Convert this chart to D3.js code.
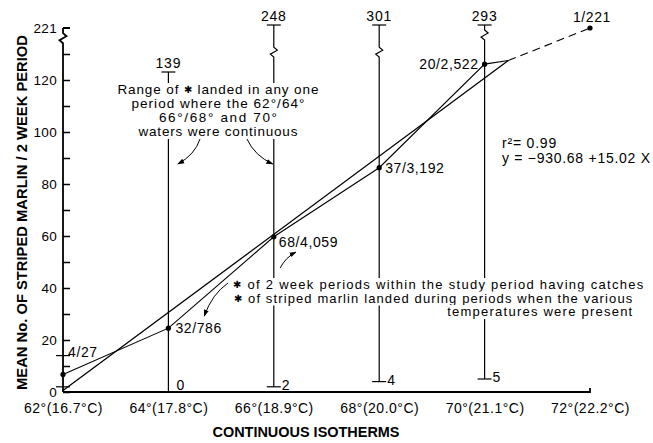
<!DOCTYPE html>
<html><head><meta charset="utf-8">
<script src="https://cdn.jsdelivr.net/npm/d3@7"></script>
<style>
body{margin:0;background:#fff}
svg{display:block}
text{font-family:"Liberation Sans",Arial,Helvetica,sans-serif;fill:#000}
</style></head><body>
<svg id="c" width="653" height="443"></svg>
<script>
// ---- data ----
const isotherms = [62, 64, 66, 68, 70, 72];
const isoLabels = ["62°(16.7°C)", "64°(17.8°C)", "66°(18.9°C)", "68°(20.0°C)", "70°(21.1°C)", "72°(22.2°C)"];
const periods = [4, 32, 68, 37, 20, 1];
const landed = ["27", "786", "4,059", "3,192", "2,522", "221"];
const meanCatch = [6.75, 24.56, 59.69, 86.27, 126.1, 221];
const rangeIso = [62, 64, 66, 68, 70];
const rangeLow = [2, 0, 2, 4, 5];
const rangeHigh = [14, 139, 248, 301, 293];
const rangeLabelled = [false, true, true, true, true];
const rangeBreak = [null, null, 176, 176, 208];
const yTicks = [0, 20, 40, 60, 80, 100, 120];
const yMinor = [10, 30, 50, 70, 90, 110, 130];
const yBreakTop = 221, yAxisBreak = 202;
const regIntercept = -930.68, regSlope = 15.02, regR2 = 0.99;
const regSpan = [62, 70.45];
const rangeNote = ["Range of \u2731 landed in any one", "period where the 62°/64°", "66°/68° and 70°", "waters were continuous"];
const rangeNoteLen = [201, 173, 118, 159];
const marlinNote = ["\u2731 of 2 week periods within the study period having catches", "\u2731 of striped marlin landed during periods when the various", "temperatures were present"];
// annotation anchors in data units [°F, mean]
const rangeNoteAt = [64.94, 114.6];
const marlinNoteAt = [65.23, 39.6];
const eqAt = [70.33, 94.0];
const arrows = [
  [[64.60, 97.3], [64.50, 91.2], [64.18, 87.7]],
  [[65.49, 97.3], [65.64, 90.8], [65.98, 87.7]],
  [[66.12, 47.7], [66.23, 51.9], [66.42, 53.8]],
  [[65.13, 41.9], [64.83, 37.7], [64.68, 29.2]]
];
// label offsets (px) for point labels
const ptLabel = [
  {a: "start", dx: 5, dy: -17},
  {a: "start", dx: 7, dy: 5},
  {a: "start", dx: 5, dy: 10},
  {a: "start", dx: 6, dy: 5},
  {a: "end", dx: -6, dy: 5},
  {a: "middle", dx: 2, dy: -6}
];

// ---- scales ----
const svg = d3.select("#c");
const x = d3.scaleLinear().domain([62, 72]).range([63, 590]);
const y = d3.scaleLinear().domain([0, 120]).range([392, 80]);
const yTop = d3.scaleLinear().domain([139, 221, 248]).range([72, 28, 25]).clamp(true);
const yv = v => v <= 130 ? y(v) : yTop(v);
const P = p => [x(p[0]), y(p[1])];

function brokenPath(xp, yT, yB, bp) {
  if (bp == null) return `M${xp},${yT}V${yB}`;
  return `M${xp},${yT}V${bp - 5}L${xp + 3.5},${bp - 2}L${xp - 3.5},${bp + 2}L${xp},${bp + 5}V${yB}`;
}
function backing(sel, pad) {
  const b = sel.node().getBBox();
  svg.insert("rect", () => sel.node()).attr("x", b.x - pad).attr("y", b.y + 1)
    .attr("width", b.width + 2 * pad).attr("height", b.height - 1).attr("fill", "#fff");
}
// writes a string, drawing the ✱ symbol a little smaller
function starText(node, str) {
  str.split("\u2731").forEach((part, k) => {
    if (k > 0) node.append("tspan").attr("font-size", 10).attr("dy", -1).text("\u2731");
    if (part) node.append("tspan").attr("dy", k > 0 ? 1 : 0).text(part);
  });
}

svg.append("defs").append("marker").attr("id", "ah")
  .attr("viewBox", "0 0 10 10").attr("refX", 9).attr("refY", 5)
  .attr("markerWidth", 7).attr("markerHeight", 7).attr("orient", "auto")
  .append("path").attr("d", "M0,1.5L10,5L0,8.5Z").attr("fill", "#000");

// ---- range lines ----
const rg = svg.append("g").attr("stroke", "#000").attr("fill", "none").attr("stroke-width", 1.2);
rangeIso.forEach((iso, i) => {
  const xp = x(iso), yT = yv(rangeHigh[i]), yB = y(rangeLow[i]);
  if (i > 0) rg.append("path").attr("d", brokenPath(xp, yT, yB, rangeBreak[i] == null ? null : yTop(rangeBreak[i])));
  rg.append("path").attr("d", `M${xp - 7},${yT}H${xp + 7}`);
  if (rangeLow[i] > 0) rg.append("path").attr("d", `M${xp - 7},${yB}H${xp + 7}`);
});

// ---- axes ----
const ya = svg.append("g").attr("transform", `translate(${x(62)},0)`)
  .call(d3.axisLeft(y).tickValues(yTicks).tickSizeInner(-7).tickSizeOuter(0).tickPadding(6));
ya.select(".domain").remove();
ya.selectAll("line").attr("stroke", "#000").attr("stroke-width", 1.5);
ya.selectAll("text").attr("font-size", 13.5).attr("fill", "#000").attr("letter-spacing", 0.3);
const ym = svg.append("g").attr("transform", `translate(${x(62)},0)`)
  .call(d3.axisLeft(y).tickValues(yMinor).tickSizeInner(-7).tickSizeOuter(0).tickFormat(""));
ym.select(".domain").remove();
ym.selectAll("line").attr("stroke", "#000").attr("stroke-width", 1.5);
svg.append("path").attr("fill", "none").attr("stroke", "#000").attr("stroke-width", 1.8)
  .attr("d", brokenPath(x(62), yTop(yBreakTop), y(0), yTop(yAxisBreak)) + `M${x(62)},${yTop(yBreakTop)}H${x(62) + 7}`);
svg.append("text").attr("x", x(62) - 6).attr("y", yTop(yBreakTop)).attr("dy", "0.35em")
  .attr("text-anchor", "end").attr("font-size", 13.5).attr("letter-spacing", 0.3).text(yBreakTop);

const xa = svg.append("g").attr("transform", `translate(0,${y(0)})`)
  .call(d3.axisBottom(x).tickValues(isotherms).tickSize(0).tickPadding(11).tickFormat((d, i) => isoLabels[i]));
xa.select(".domain").remove();
xa.selectAll("text").attr("font-size", 14).attr("letter-spacing", 0.5).attr("fill", "#000");
svg.append("path").attr("fill", "none").attr("stroke", "#000").attr("stroke-width", 1.8)
  .attr("d", `M${x(62)},${y(0)}H${x(72)}V${y(0) - 4}`);

// titles
svg.append("text").attr("x", 306).attr("y", 437).attr("text-anchor", "middle")
  .attr("font-size", 14).attr("font-weight", "bold").attr("textLength", 187).attr("lengthAdjust", "spacingAndGlyphs")
  .text("CONTINUOUS ISOTHERMS");
svg.append("text").attr("transform", "translate(22,212.5) rotate(-90)").attr("dy", "0.35em")
  .attr("text-anchor", "middle").attr("font-size", 14).attr("font-weight", "bold")
  .attr("textLength", 355).attr("lengthAdjust", "spacingAndGlyphs")
  .text("MEAN No. OF STRIPED MARLIN / 2 WEEK PERIOD");

// ---- regression and data lines ----
const regPts = regSpan.map(X => [X, regIntercept + regSlope * X]);
svg.append("path").attr("fill", "none").attr("stroke", "#000").attr("stroke-width", 1.3)
  .attr("d", d3.line()(regPts.map(P)));
const dataPts = isotherms.slice(0, 5).map((X, i) => [x(X), yv(meanCatch[i])]);
dataPts.push(P(regPts[1]));
svg.append("path").attr("fill", "none").attr("stroke", "#000").attr("stroke-width", 1.1)
  .attr("d", d3.line()(dataPts));
svg.append("path").attr("fill", "none").attr("stroke", "#000").attr("stroke-width", 1.1)
  .attr("stroke-dasharray", "8,5")
  .attr("d", d3.line()([P(regPts[1]), [x(isotherms[5]), yv(meanCatch[5])]]));

// ---- texts ----
const rn = svg.append("text").attr("font-size", 13.5).attr("text-anchor", "middle");
rangeNote.forEach((t, i) => {
  const ts = rn.append("tspan").attr("x", x(rangeNoteAt[0])).attr("y", y(rangeNoteAt[1]) + i * 14)
    .attr("textLength", rangeNoteLen[i]).attr("lengthAdjust", "spacing");
  starText(ts, t);
});
backing(rn, 3);

const mx = x(marlinNoteAt[0]), my = y(marlinNoteAt[1]);
const m1 = svg.append("text").attr("font-size", 13).attr("x", mx).attr("y", my)
  .attr("textLength", 410).attr("lengthAdjust", "spacing");
starText(m1, marlinNote[0]);
const m2 = svg.append("text").attr("font-size", 13).attr("x", mx + 1).attr("y", my + 13.5)
  .attr("textLength", 398).attr("lengthAdjust", "spacing");
starText(m2, marlinNote[1]);
const m3 = svg.append("text").attr("font-size", 13).attr("x", mx + 399).attr("y", my + 27)
  .attr("text-anchor", "end").attr("textLength", 185).attr("lengthAdjust", "spacing").text(marlinNote[2]);
[m1, m2, m3].forEach(m => backing(m, 2));

const ex = x(eqAt[0]), ey = y(eqAt[1]);
svg.append("text").attr("font-size", 14).attr("letter-spacing", 0.8).attr("x", ex).attr("y", ey)
  .text("r\u00B2= " + regR2.toFixed(2));
svg.append("text").attr("font-size", 14).attr("x", ex).attr("y", ey + 15)
  .attr("textLength", 148).attr("lengthAdjust", "spacing")
  .text(`y = \u2212${Math.abs(regIntercept).toFixed(2)} +${regSlope.toFixed(2)}  X`);

// range labels
rangeIso.forEach((iso, i) => {
  if (!rangeLabelled[i]) return;
  const xp = x(iso);
  svg.append("text").attr("font-size", 14).attr("letter-spacing", 0.8).attr("text-anchor", "middle")
    .attr("x", xp).attr("y", yv(rangeHigh[i]) - 4).text(rangeHigh[i]);
  svg.append("text").attr("font-size", 14)
    .attr("x", xp + 8).attr("y", Math.min(y(rangeLow[i]) + 3, 390)).text(rangeLow[i]);
});

// point labels + dots
isotherms.forEach((X, i) => {
  const xp = x(X), yp = yv(meanCatch[i]), o = ptLabel[i];
  svg.append("text").attr("font-size", 14).attr("letter-spacing", 0.6).attr("text-anchor", o.a)
    .attr("x", xp + o.dx).attr("y", yp + o.dy).text(`${periods[i]}/${landed[i]}`);
  svg.append("circle").attr("cx", xp).attr("cy", yp).attr("r", 2.6).attr("fill", "#000");
});

// arrows
arrows.forEach(a => {
  const [s, c, e] = a.map(P);
  svg.append("path").attr("fill", "none").attr("stroke", "#000").attr("stroke-width", 1)
    .attr("marker-end", "url(#ah)")
    .attr("d", `M${s[0]},${s[1]}Q${c[0]},${c[1]} ${e[0]},${e[1]}`);
});
</script>
</body></html>
